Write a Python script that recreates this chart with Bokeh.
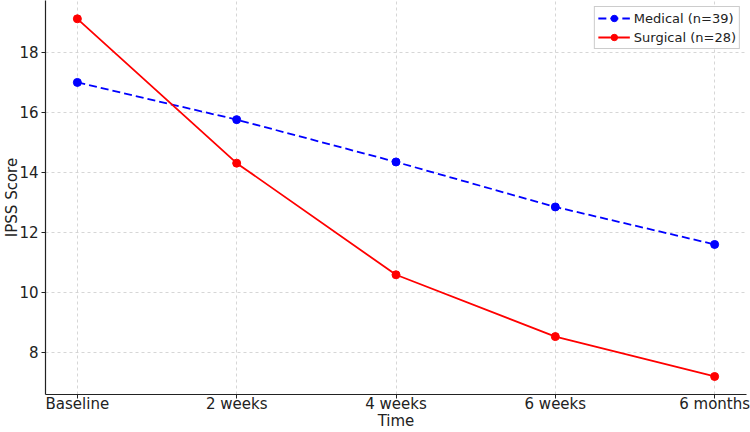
from bokeh.plotting import figure
from bokeh.models import Range1d, FixedTicker
from bokeh.embed import file_html
from bokeh.resources import INLINE

time_labels = ["Baseline", "2 weeks", "4 weeks", "6 weeks", "6 months"]
medical = [17.0, 15.76, 14.35, 12.85, 11.6]
surgical = [19.12, 14.31, 10.59, 8.53, 7.2]
y_ticks = [8, 10, 12, 14, 16, 18]

x = list(range(len(time_labels)))
FONT = "DejaVu Sans"

p = figure(width=750, height=432, output_backend="svg", toolbar_location=None,
           x_range=Range1d(-0.2, 4.2), y_range=Range1d(6.6, 19.73),
           min_border_left=0, min_border_right=4, min_border_top=0, min_border_bottom=0)
p.outline_line_color = None

p.line(x, medical, line_color="#0000ff", line_width=1.8, line_dash="8 4", legend_label="Medical (n=39)")
p.scatter(x, medical, size=8, color="#0000ff", legend_label="Medical (n=39)")
p.line(x, surgical, line_color="#ff0000", line_width=1.8, legend_label="Surgical (n=28)")
p.scatter(x, surgical, size=8, color="#ff0000", legend_label="Surgical (n=28)")

p.xaxis.ticker = FixedTicker(ticks=x)
p.xaxis.major_label_overrides = {i: l for i, l in enumerate(time_labels)}
p.yaxis.ticker = FixedTicker(ticks=y_ticks)

for ax in (p.xaxis[0], p.yaxis[0]):
    ax.axis_line_color = "#222222"
    ax.axis_line_width = 1.2
    ax.major_tick_line_color = "#222222"
    ax.major_tick_out = 4
    ax.major_tick_in = 0
    ax.minor_tick_line_color = None
    ax.major_label_text_font = FONT
    ax.major_label_text_font_size = "15px"
    ax.major_label_text_color = "#222222"
    ax.axis_label_text_font = FONT
    ax.axis_label_text_font_size = "15px"
    ax.axis_label_text_font_style = "normal"
    ax.axis_label_text_color = "#222222"

p.xaxis.axis_label = "Time"
p.yaxis.axis_label = "IPSS Score"
p.xaxis.axis_label_standoff = -4
p.yaxis.axis_label_standoff = -5
p.xaxis.major_label_standoff = -4
p.yaxis.major_label_standoff = 3

p.grid.grid_line_color = "#cccccc"
p.grid.grid_line_dash = "3 3"
p.grid.grid_line_width = 0.8

p.legend.location = "top_right"
p.legend.label_text_font = FONT
p.legend.label_text_font_size = "13px"
p.legend.label_text_color = "#222222"
p.legend.border_line_color = "#cccccc"
p.legend.border_line_alpha = 1
p.legend.glyph_width = 32
p.legend.glyph_height = 16
p.legend.label_height = 16
p.legend.spacing = 3
p.legend.padding = 3
p.legend.margin = 6
p.legend.label_standoff = 4

open("out.html", "w").write(file_html(p, INLINE))
